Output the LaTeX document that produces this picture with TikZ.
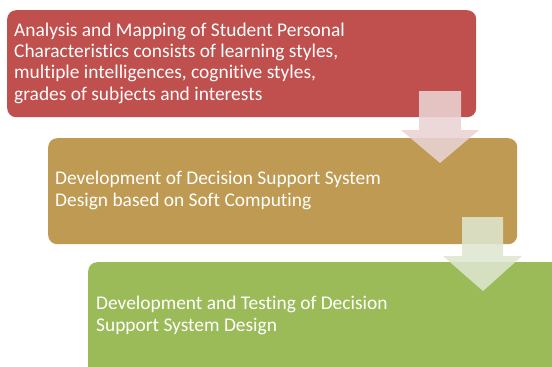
\documentclass[tikz,border=0pt]{standalone}
\usepackage{fontspec}
\setmainfont{Carlito}[Ligatures=NoCommon]
\definecolor{boxred}{HTML}{C0504D}
\definecolor{boxtan}{HTML}{BE9A52}
\definecolor{boxgreen}{HTML}{9BBB59}
\definecolor{arrred}{HTML}{E9D3D3}
\definecolor{arrgreen}{HTML}{DEE6CF}
\begin{document}
\begin{tikzpicture}[x=1pt,y=-1pt,
  stagebox/.style={draw=none,rounded corners=9pt,inner sep=0pt,anchor=north west},
  stagetext/.style={text=white,anchor=base west,align=left,inner sep=0pt,
    font=\fontsize{19.4}{21.3}\selectfont},
  flowarrow/.style={draw=none,fill opacity=0.88}]
\useasboundingbox (0,0) rectangle (552,367);
\clip (0,0) rectangle (552,367);
\node[stagebox,fill=boxred,minimum width=469pt,minimum height=107pt] (s1) at (7,10) {};
\node[stagebox,fill=boxtan,minimum width=469pt,minimum height=106pt] (s2) at (48,138) {};
\node[stagebox,fill=boxgreen,minimum width=480pt,minimum height=120pt] (s3) at (88,262) {};
\node[stagetext] (t1) at (14,100) {Analysis and Mapping of Student Personal\\Characteristics consists of learning styles,\\multiple intelligences, cognitive styles,\\grades of subjects and interests};
\node[stagetext] (t2) at (55,206) {Development of Decision Support System\\Design based on Soft Computing};
\node[stagetext] (t3) at (96,331) {Development and Testing of Decision\\Support System Design};
\fill[flowarrow,fill=arrred] (419,91) -- (461,91) -- (461,130) -- (479,130) -- (440,163) -- (401,130) -- (419,130) -- cycle;
\fill[flowarrow,fill=arrgreen] (462,217) -- (503,217) -- (503,256) -- (522,256) -- (483,291) -- (443,256) -- (462,256) -- cycle;
\end{tikzpicture}
\end{document}
